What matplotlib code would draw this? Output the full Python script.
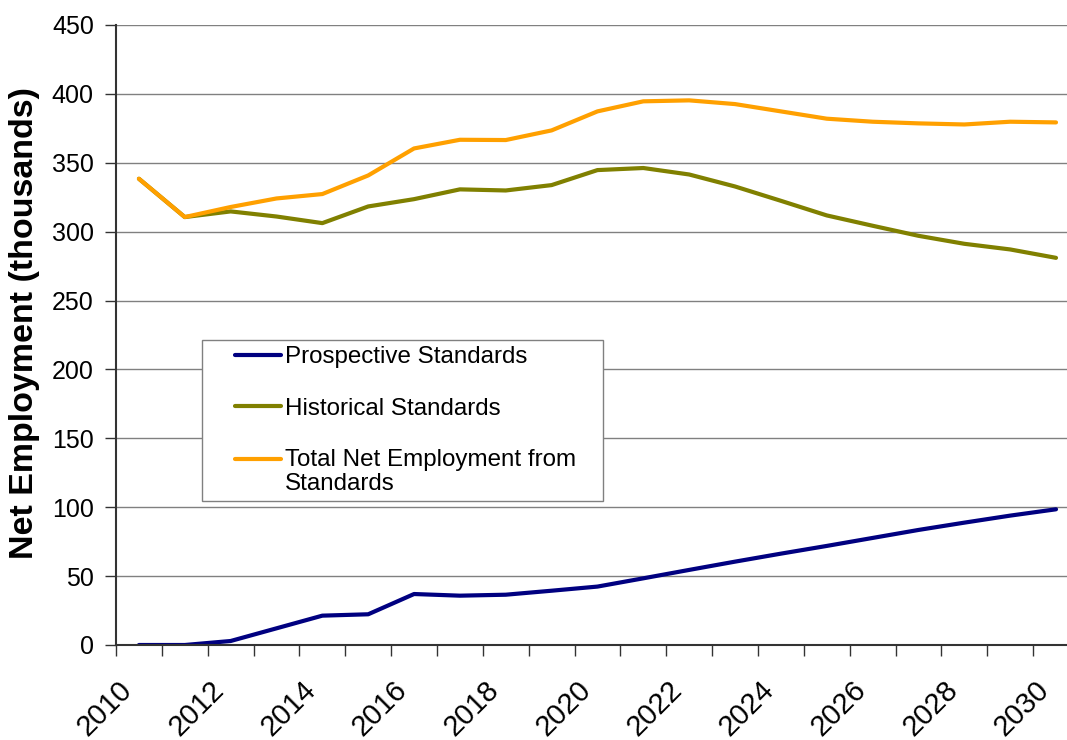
import matplotlib
matplotlib.use('Agg')
import matplotlib.pyplot as plt
import matplotlib.transforms as mtransforms
from matplotlib.legend_handler import HandlerLine2D

plt.rcParams['font.family'] = ['Liberation Sans', 'DejaVu Sans']

years = list(range(2010, 2031))

prospective = [0, 0, 2.9, 12.1, 21.3, 22.3, 37.0, 35.8, 36.5, 39.4, 42.4,
               48.4, 54.5, 60.5, 66.3, 71.9, 77.7, 83.5, 88.8, 93.9, 98.5]
historical = [338.4, 310.6, 314.7, 311.0, 306.2, 318.3, 323.6, 330.7, 329.9,
              333.8, 344.7, 346.2, 341.5, 332.8, 322.4, 311.8, 304.3, 297.0,
              291.2, 287.1, 281.0]
total = [338.4, 310.6, 317.9, 324.1, 327.3, 340.8, 360.4, 366.7, 366.5,
         373.5, 387.3, 394.6, 395.3, 392.6, 387.3, 382.0, 379.8, 378.6,
         377.8, 379.8, 379.3]

labels = ['Prospective Standards', 'Historical Standards',
          'Total Net Employment from\nStandards']
colors = ['#000080', '#808000', '#FFA000']

fig = plt.figure(figsize=(10.67, 7.4), dpi=100)
ax = fig.add_axes([116 / 1067, 95 / 740, 951 / 1067, 620 / 740])

idx = list(range(len(years)))
kw = dict(lw=3, solid_capstyle='round', solid_joinstyle='round')
l1, = ax.plot(idx, prospective, color=colors[0], label=labels[0], **kw)
l2, = ax.plot(idx, historical, color=colors[1], label=labels[1], **kw)
l3, = ax.plot(idx, total, color=colors[2], label=labels[2], **kw)

ax.set_ylim(0, 450)
ax.set_yticks(range(0, 451, 50))
ax.set_xlim(-0.5, 20.24)

# category boundaries get the tick marks, centres get the labels
ax.set_xticks([i - 0.5 for i in idx])
ax.set_xticklabels([])
ax.set_xticks(idx[::2], labels=[str(y) for y in years[::2]], minor=True)
ax.tick_params(axis='x', which='major', length=8, width=1, color='#333333', direction='out')
ax.tick_params(axis='x', which='minor', length=0, pad=29, labelsize=21)
ax.tick_params(axis='y', length=8, width=1, color='#333333', direction='out',
               labelsize=18, pad=8)

shift = mtransforms.ScaledTranslation(-11 / 100, 0, fig.dpi_scale_trans)
for lab in ax.get_xticklabels(minor=True):
    lab.set_rotation(45)
    lab.set_rotation_mode('anchor')
    lab.set_ha('right')
    lab.set_va('center')
    lab.set_transform(lab.get_transform() + shift)

ax.grid(axis='y', color='#808080', lw=1)
ax.set_axisbelow(True)
for s in ['top', 'right']:
    ax.spines[s].set_visible(False)
for s in ['left', 'bottom']:
    ax.spines[s].set_color('#333333')
    ax.spines[s].set_linewidth(1.5)

ax.set_ylabel('Net Employment (thousands)', fontsize=24.5, fontweight='bold')
ax.yaxis.set_label_coords(-0.08, 0.519)


def lift(handle, orig):
    # keep the handle level with the first line of a two-line label
    handle.update_from(orig)
    handle.set_ydata(handle.get_ydata() + 9.5)


leg = ax.legend(loc='upper left',
                bbox_to_anchor=(202 / 1067, 1 - 497 / 740, 401 / 1067, 157 / 740),
                bbox_transform=fig.transFigure, mode='expand', borderaxespad=0,
                fancybox=False, edgecolor='#808080', framealpha=1, fontsize=17.4,
                handlelength=3.0, handletextpad=0.2, labelspacing=1.22,
                borderpad=0.25,
                handler_map={l1: HandlerLine2D(xpad=1.1),
                             l2: HandlerLine2D(xpad=1.1),
                             l3: HandlerLine2D(xpad=1.1, update_func=lift)})
leg.get_frame().set_linewidth(1)
for t in leg.get_texts():
    t.set_linespacing(1.1)

fig.savefig('out.png', dpi=100)
